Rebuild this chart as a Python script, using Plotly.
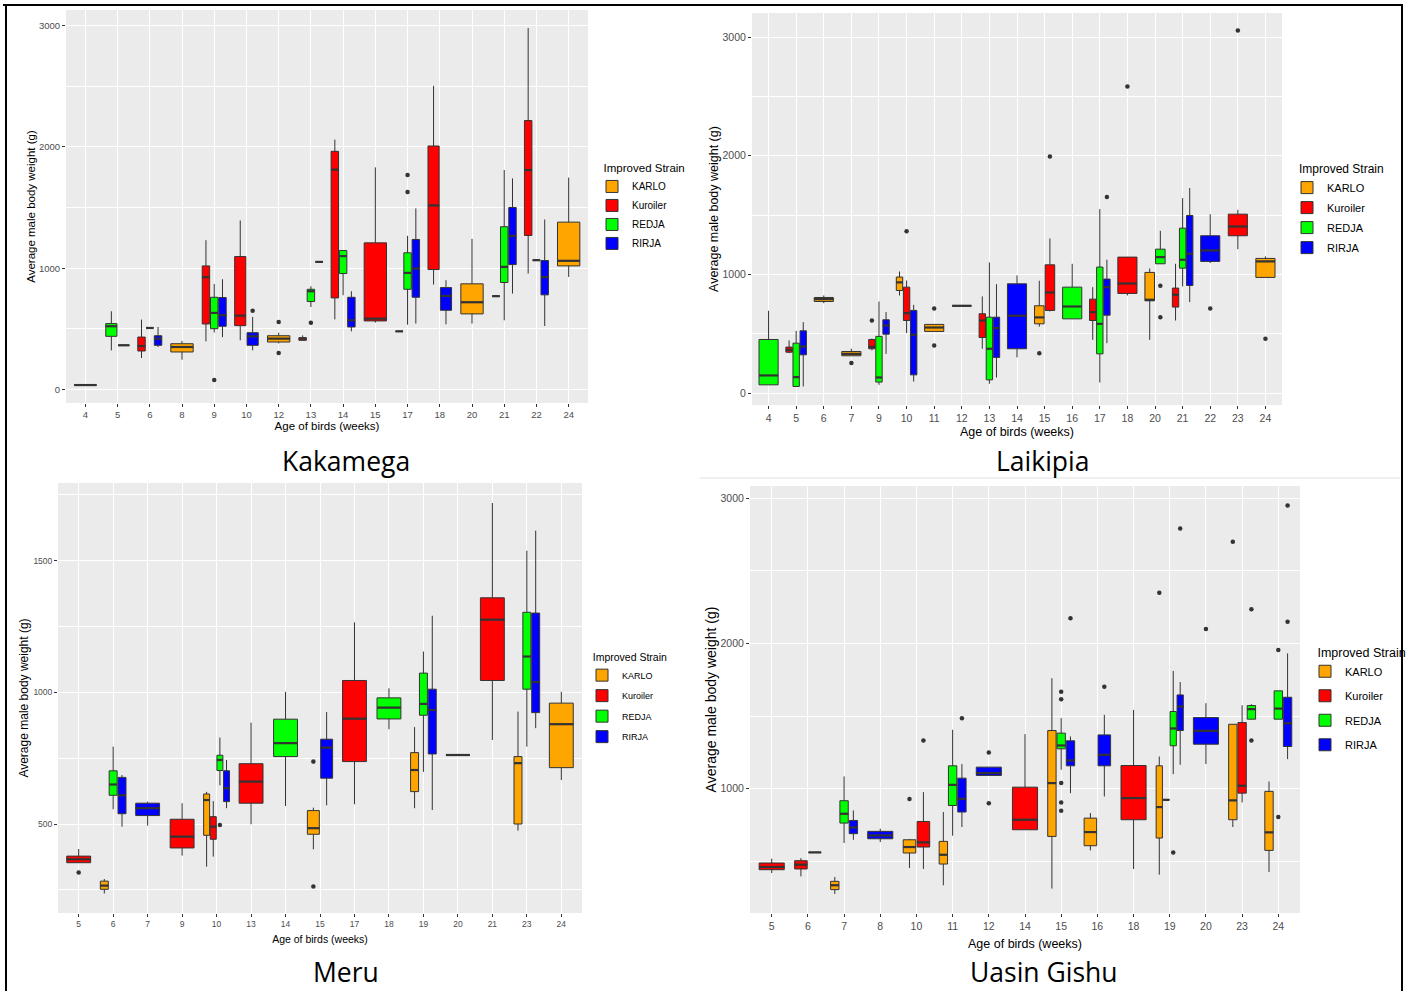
import plotly.graph_objects as go

# ---------------- data ----------------
STRAIN_ORDER = ["KARLO", "Kuroiler", "REDJA", "RIRJA"]
STRAIN_COLORS = ["#FFA500", "#FF0000", "#00FF00", "#0000FF"]

# Kakamega
KAK_AGES = [4, 5, 6, 8, 9, 10, 12, 13, 14, 15, 17, 18, 20, 21, 22, 24]
KAK_BOX_AGE = [4, 5, 5, 6, 6, 6, 8, 9, 9, 9, 10, 10, 12, 13, 13, 13, 14, 14, 14, 15,
               17, 17, 17, 18, 18, 20, 21, 21, 21, 22, 22, 22, 24]
KAK_BOX_STRAIN = ["Kuroiler", "REDJA", "RIRJA", "Kuroiler", "REDJA", "RIRJA", "KARLO",
                  "Kuroiler", "REDJA", "RIRJA", "Kuroiler", "RIRJA", "KARLO",
                  "Kuroiler", "REDJA", "RIRJA", "Kuroiler", "REDJA", "RIRJA", "Kuroiler",
                  "Kuroiler", "REDJA", "RIRJA", "Kuroiler", "RIRJA", "KARLO",
                  "Kuroiler", "REDJA", "RIRJA", "Kuroiler", "REDJA", "RIRJA", "KARLO"]
KAK_LOW = [36, 322, 364, 259, 507, 350, 245, 397, 470, 432, 405, 322, 380, 405, 680, 1052,
           578, 777, 479, 551, 479, 534, 543, 865, 537, 543, 769, 570, 791, 956, 1066, 523, 928]
KAK_Q1 = [36, 438, 364, 317, 507, 364, 309, 540, 501, 521, 526, 364, 391, 405, 725, 1052,
          755, 956, 515, 565, 479, 826, 760, 989, 653, 623, 769, 882, 1030, 1270, 1066, 780, 1019]
KAK_MED = [36, 521, 364, 358, 507, 419, 350, 926, 631, 612, 609, 438, 419, 419, 810, 1052,
           1813, 1100, 570, 584, 479, 961, 997, 1518, 771, 719, 769, 1011, 1267, 1810, 1066, 926, 1061]
KAK_Q3 = [36, 543, 364, 432, 507, 443, 377, 1019, 760, 758, 1096, 468, 443, 427, 826, 1052,
          1964, 1146, 760, 1209, 479, 1127, 1237, 2008, 840, 871, 769, 1342, 1501, 2218, 1066, 1063, 1380]
KAK_HIGH = [36, 645, 364, 576, 507, 515, 400, 1231, 870, 909, 1394, 598, 468, 446, 851, 1052,
            2061, 1150, 810, 1832, 479, 1267, 1493, 2504, 901, 1242, 769, 1810, 1741, 2981, 1066, 1402, 1747]
KAK_OUT_AGE = [9, 10, 12, 12, 13, 17, 17]
KAK_OUT_STRAIN = ["REDJA", "RIRJA", "KARLO", "KARLO", "REDJA", "REDJA", "REDJA"]
KAK_OUT_Y = [77, 650, 556, 300, 551, 1769, 1628]

# Laikipia
LAI_AGES = [4, 5, 6, 7, 9, 10, 11, 12, 13, 14, 15, 16, 17, 18, 20, 21, 22, 23, 24]
LAI_BOX_AGE = [4, 5, 5, 5, 6, 7, 9, 9, 9, 10, 10, 10, 11, 12, 13, 13, 13, 14, 15, 15,
               16, 17, 17, 17, 18, 20, 20, 21, 21, 21, 22, 23, 24]
LAI_BOX_STRAIN = ["REDJA", "Kuroiler", "REDJA", "RIRJA", "KARLO", "KARLO",
                  "Kuroiler", "REDJA", "RIRJA", "KARLO", "Kuroiler", "RIRJA", "KARLO", "KARLO",
                  "Kuroiler", "REDJA", "RIRJA", "RIRJA", "KARLO", "Kuroiler",
                  "REDJA", "Kuroiler", "REDJA", "RIRJA", "Kuroiler", "KARLO", "REDJA",
                  "Kuroiler", "REDJA", "RIRJA", "RIRJA", "Kuroiler", "KARLO"]
LAI_LOW = [70, 337, 56, 56, 758, 315, 360, 70, 331, 823, 506, 98, 520, 736, 374, 79, 132, 301,
           560, 688, 626, 449, 90, 421, 823, 449, 1090, 612, 899, 767, 1096, 1213, 975]
LAI_Q1 = [70, 345, 56, 323, 772, 315, 374, 93, 497, 865, 612, 154, 520, 736, 469, 112, 301, 374,
          584, 697, 626, 612, 331, 657, 840, 778, 1090, 725, 1053, 907, 1110, 1326, 975]
LAI_MED = [149, 365, 135, 393, 792, 331, 390, 132, 570, 933, 674, 492, 553, 736, 612, 374, 548, 652,
           638, 848, 730, 683, 584, 893, 924, 787, 1146, 829, 1124, 1174, 1202, 1404, 1110]
LAI_Q3 = [452, 388, 421, 525, 806, 351, 452, 478, 618, 978, 893, 697, 579, 736, 669, 640, 640, 921,
          736, 1081, 893, 792, 1062, 961, 1146, 1017, 1213, 885, 1390, 1497, 1326, 1508, 1135]
LAI_HIGH = [694, 444, 525, 598, 823, 374, 460, 772, 683, 1025, 949, 744, 579, 736, 815, 1101, 918, 992,
            947, 1303, 1090, 893, 1551, 1124, 1146, 1051, 1368, 1090, 1643, 1728, 1508, 1545, 1152]
LAI_OUT_AGE = [7, 9, 10, 11, 11, 15, 15, 17, 18, 20, 20, 22, 23, 24]
LAI_OUT_STRAIN = ["KARLO", "Kuroiler", "Kuroiler", "KARLO", "KARLO", "KARLO", "Kuroiler",
                  "RIRJA", "Kuroiler", "REDJA", "REDJA", "RIRJA", "Kuroiler", "KARLO"]
LAI_OUT_Y = [253, 612, 1365, 713, 402, 337, 1994, 1652, 2584, 905, 640, 713, 3056, 458]

# Meru
MER_AGES = [5, 6, 7, 9, 10, 13, 14, 15, 17, 18, 19, 20, 21, 23, 24]
MER_BOX_AGE = [5, 6, 6, 6, 7, 9, 10, 10, 10, 10, 13, 14, 15, 15, 17, 18, 19, 19, 19, 20,
               21, 23, 23, 23, 24]
MER_BOX_STRAIN = ["Kuroiler", "KARLO", "REDJA", "RIRJA", "RIRJA", "Kuroiler",
                  "KARLO", "Kuroiler", "REDJA", "RIRJA", "Kuroiler", "REDJA", "KARLO", "RIRJA",
                  "Kuroiler", "REDJA", "KARLO", "REDJA", "RIRJA", "REDJA",
                  "Kuroiler", "KARLO", "REDJA", "RIRJA", "KARLO"]
MER_LOW = [353, 236, 556, 490, 494, 380, 338, 376, 647, 560, 499, 568, 404, 571, 575, 860,
           560, 698, 553, 762, 819, 475, 794, 864, 667]
MER_Q1 = [353, 252, 609, 539, 532, 409, 457, 442, 703, 585, 579, 756, 461, 674, 737, 899,
          623, 913, 766, 762, 1045, 500, 1012, 923, 714]
MER_MED = [366, 266, 650, 609, 560, 452, 591, 490, 743, 636, 661, 807, 484, 790, 900, 942,
           705, 956, 933, 762, 1276, 731, 1136, 1039, 879]
MER_Q3 = [378, 283, 702, 677, 579, 518, 614, 528, 761, 702, 729, 898, 551, 822, 1045, 979,
          771, 1073, 1012, 762, 1359, 756, 1304, 1301, 959]
MER_HIGH = [405, 291, 794, 686, 585, 579, 622, 587, 828, 743, 885, 1002, 562, 925, 1266, 1015,
            868, 1155, 1291, 762, 1719, 927, 1538, 1614, 1002]
MER_OUT_AGE = [5, 10, 15, 15]
MER_OUT_STRAIN = ["Kuroiler", "REDJA", "KARLO", "KARLO"]
MER_OUT_Y = [316, 496, 737, 263]

# Uasin Gishu
UG_AGES = [5, 6, 7, 8, 10, 11, 12, 14, 15, 16, 18, 19, 20, 23, 24]
UG_BOX_AGE = [5, 6, 6, 7, 7, 7, 8, 10, 10, 11, 11, 11, 12, 14, 15, 15, 15, 16, 16, 18,
              19, 19, 19, 19, 20, 23, 23, 23, 24, 24, 24]
UG_BOX_STRAIN = ["Kuroiler", "Kuroiler", "RIRJA", "KARLO", "REDJA", "RIRJA", "RIRJA",
                 "KARLO", "Kuroiler", "KARLO", "REDJA", "RIRJA", "RIRJA", "Kuroiler",
                 "KARLO", "REDJA", "RIRJA", "KARLO", "RIRJA", "Kuroiler",
                 "KARLO", "Kuroiler", "REDJA", "RIRJA", "RIRJA",
                 "KARLO", "Kuroiler", "REDJA", "KARLO", "REDJA", "RIRJA"]
UG_LOW = [420, 397, 562, 276, 627, 649, 633, 455, 448, 336, 677, 737, 1092, 718, 313, 1131, 970,
          576, 947, 448, 409, 924, 1101, 1165, 1170, 737, 906, 1479, 427, 1479, 1204]
UG_Q1 = [443, 448, 562, 306, 764, 691, 656, 558, 599, 482, 885, 840, 1092, 718, 672, 1275, 1158,
         608, 1158, 787, 661, 924, 1296, 1401, 1307, 787, 970, 1479, 576, 1479, 1291]
UG_MED = [462, 478, 562, 336, 828, 734, 679, 599, 631, 546, 1027, 931, 1108, 787, 1039, 1298, 1195,
          702, 1234, 936, 874, 924, 1415, 1566, 1399, 920, 1021, 1548, 700, 1552, 1451]
UG_Q3 = [489, 505, 562, 363, 918, 782, 707, 649, 775, 638, 1158, 1073, 1149, 1011, 1401, 1383, 1330,
         798, 1371, 1160, 1158, 924, 1532, 1646, 1490, 1444, 1456, 1573, 982, 1674, 1630]
UG_HIGH = [519, 523, 562, 393, 1085, 851, 725, 654, 977, 840, 1406, 1170, 1149, 1376, 1761, 1486, 1360,
           833, 1509, 1543, 1222, 924, 1811, 1735, 1589, 1444, 1575, 1582, 1050, 1674, 1932]
UG_OUT_AGE = [10, 10, 11, 12, 12, 15, 15, 15, 15, 15, 15, 16, 19, 19, 19, 20, 23, 23, 23,
              24, 24, 24, 24]
UG_OUT_STRAIN = ["KARLO", "Kuroiler", "RIRJA", "RIRJA", "RIRJA", "REDJA", "REDJA", "REDJA",
                 "REDJA", "REDJA", "RIRJA", "RIRJA", "KARLO", "REDJA", "RIRJA", "RIRJA",
                 "KARLO", "REDJA", "REDJA", "REDJA", "REDJA", "RIRJA", "RIRJA"]
UG_OUT_Y = [929, 1332, 1486, 1250, 901, 1667, 1616, 1039, 906, 849, 2173, 1703, 2349, 562, 2792,
            2100, 2700, 2235, 1332, 1955, 805, 2950, 2150]

PANEL_NAMES = ["Kakamega", "Laikipia", "Meru", "Uasin Gishu"]
X_TITLE = "Age of birds (weeks)"
Y_TITLE = "Average male body weight (g)"
LEGEND_TITLE = "Improved Strain"

# ---------------- styling ----------------
W_PX, H_PX = 1410, 991
FONT = "Liberation Sans, Arial, sans-serif"
OUTLINE = "#333333"

panels = [
    dict(name=PANEL_NAMES[0], ages=KAK_AGES, bage=KAK_BOX_AGE, bstr=KAK_BOX_STRAIN,
         lo=KAK_LOW, q1=KAK_Q1, med=KAK_MED, q3=KAK_Q3, hi=KAK_HIGH,
         oage=KAK_OUT_AGE, ostr=KAK_OUT_STRAIN, oy=KAK_OUT_Y,
         box=(66, 588, 10, 403), yr=[-112, 3130], dtick=1000,
         tick=9.5, xt=11.5, yt=11.5, xstand=2, ystand=0,
         leg=(592, 157), legt=11.5, legi=10, gap=0, ind=3,
         cap=(346, 461)),
    dict(name=PANEL_NAMES[1], ages=LAI_AGES, bage=LAI_BOX_AGE, bstr=LAI_BOX_STRAIN,
         lo=LAI_LOW, q1=LAI_Q1, med=LAI_MED, q3=LAI_Q3, hi=LAI_HIGH,
         oage=LAI_OUT_AGE, ostr=LAI_OUT_STRAIN, oy=LAI_OUT_Y,
         box=(752, 1282, 13, 405), yr=[-100, 3203], dtick=1000,
         tick=10.5, xt=12.5, yt=12.5, xstand=4, ystand=1,
         leg=(1287, 157.5), legt=12, legi=11, gap=1, ind=3,
         cap=(1043, 461)),
    dict(name=PANEL_NAMES[2], ages=MER_AGES, bage=MER_BOX_AGE, bstr=MER_BOX_STRAIN,
         lo=MER_LOW, q1=MER_Q1, med=MER_MED, q3=MER_Q3, hi=MER_HIGH,
         oage=MER_OUT_AGE, ostr=MER_OUT_STRAIN, oy=MER_OUT_Y,
         box=(58, 582, 483, 913), yr=[162, 1795], dtick=500,
         tick=8.5, xt=10.5, yt=12, xstand=7, ystand=2,
         leg=(582, 647), legt=10.5, legi=9, gap=1.5, ind=3,
         cap=(346, 972)),
    dict(name=PANEL_NAMES[3], ages=UG_AGES, bage=UG_BOX_AGE, bstr=UG_BOX_STRAIN,
         lo=UG_LOW, q1=UG_Q1, med=UG_MED, q3=UG_Q3, hi=UG_HIGH,
         oage=UG_OUT_AGE, ostr=UG_OUT_STRAIN, oy=UG_OUT_Y,
         box=(750, 1300, 486, 913), yr=[145, 3084], dtick=1000,
         tick=10.5, xt=12.5, yt=14, xstand=8, ystand=0,
         leg=(1305, 640.5), legt=12.5, legi=11, gap=5.5, ind=3,
         cap=(1044, 972)),
]

DODGE_W = 0.77


def px_x(v):
    return v / W_PX


def px_y(v):
    return 1 - v / H_PX


fig = go.Figure()
layout = dict(
    width=W_PX, height=H_PX, margin=dict(l=0, r=0, t=0, b=0),
    paper_bgcolor="white", plot_bgcolor="#EBEBEB", boxmode="overlay",
    font=dict(family=FONT, color="#4D4D4D"), annotations=[], shapes=[],
)

for k, p in enumerate(panels, start=1):
    sfx = "" if k == 1 else str(k)
    xa, ya = "x" + sfx, "y" + sfx
    legname = "legend" + sfx
    ages = p["ages"]
    # dodge positions computed from which strains occur at each age
    pos, wid = {}, {}
    for ci, a in enumerate(ages, start=1):
        present = sorted({s for ag, s in zip(p["bage"], p["bstr"]) if ag == a},
                         key=STRAIN_ORDER.index)
        n = len(present)
        slot = DODGE_W / n
        for j, s in enumerate(present):
            pos[(a, s)] = ci - DODGE_W / 2 + slot * (j + 0.5)
            wid[(a, s)] = slot * 0.9

    mx, my = [], []
    for si, s in enumerate(STRAIN_ORDER):
        first = True
        for j in range(len(p["bage"])):
            if p["bstr"][j] != s:
                continue
            key = (p["bage"][j], s)
            fig.add_trace(go.Box(
                x=[pos[key]], q1=[p["q1"][j]], median=[p["med"][j]], q3=[p["q3"][j]],
                lowerfence=[p["lo"][j]], upperfence=[p["hi"][j]],
                width=wid[key], fillcolor=STRAIN_COLORS[si],
                line=dict(color=OUTLINE, width=1), whiskerwidth=0, boxpoints=False,
                name=s, legendgroup=f"{k}-{s}", showlegend=first, legend=legname,
                xaxis=xa, yaxis=ya,
            ))
            first = False
            w = wid[key]
            mx += [pos[key] - w / 2, pos[key] + w / 2, None]
            my += [p["med"][j], p["med"][j], None]
    fig.add_trace(go.Scatter(x=mx, y=my, mode="lines", line=dict(color=OUTLINE, width=2.2),
                             showlegend=False, hoverinfo="skip", xaxis=xa, yaxis=ya))
    fig.add_trace(go.Scatter(
        x=[pos[(a, s)] for a, s in zip(p["oage"], p["ostr"])], y=p["oy"], mode="markers",
        marker=dict(color=OUTLINE, size=4.5), showlegend=False, xaxis=xa, yaxis=ya))

    x0, x1, y0, y1 = p["box"]
    layout["xaxis" + sfx] = dict(
        domain=[px_x(x0), px_x(x1)], anchor=ya, range=[0.4, len(ages) + 0.6],
        tickmode="array", tickvals=list(range(1, len(ages) + 1)), ticktext=[str(a) for a in ages],
        showgrid=True, gridcolor="white", gridwidth=1.2, zeroline=False, showline=False,
        ticks="outside", ticklen=3, tickcolor=OUTLINE, tickfont=dict(size=p["tick"], color="#4D4D4D"),
        title=dict(text=X_TITLE, font=dict(size=p["xt"], color="black"), standoff=p["xstand"]),
    )
    layout["yaxis" + sfx] = dict(
        domain=[px_y(y1), px_y(y0)], anchor=xa, range=p["yr"], tick0=0, dtick=p["dtick"],
        showgrid=True, gridcolor="white", gridwidth=1.2, zeroline=False, showline=False,
        ticks="outside", ticklen=3, tickcolor=OUTLINE, tickfont=dict(size=p["tick"], color="#4D4D4D"),
        minor=dict(dtick=p["dtick"] / 2, tick0=0, showgrid=True, gridcolor="white", gridwidth=0.6, ticks=""),
        title=dict(text=Y_TITLE, font=dict(size=p["yt"], color="black"), standoff=p["ystand"]),
    )
    lx, ly = p["leg"]
    layout[legname] = dict(
        x=px_x(lx), y=px_y(ly), xanchor="left", yanchor="top", bgcolor="rgba(0,0,0,0)",
        title=dict(text="\u00a0" * p["ind"] + LEGEND_TITLE, font=dict(size=p["legt"], color="black")),
        font=dict(size=p["legi"], color="black"), tracegroupgap=p["gap"], itemwidth=30,
    )
    cx, cy = p["cap"]
    layout["annotations"].append(dict(
        text=p["name"], x=px_x(cx), y=px_y(cy), xref="paper", yref="paper", showarrow=False,
        xanchor="center", yanchor="middle", font=dict(family="Open Sans, Noto Sans, sans-serif", size=26.5, color="black"),
    ))

# frame lines of the composite figure
for (ax0, ay0, ax1, ay1, col, wdt) in [
    (3, 5, 1403, 5, "black", 2), (6, 5, 6, 991, "black", 2), (1402, 5, 1402, 991, "black", 2),
    (700, 478, 1400, 478, "#E0E0E0", 1),
]:
    layout["shapes"].append(dict(type="line", xref="paper", yref="paper",
                                 x0=px_x(ax0), y0=px_y(ay0), x1=px_x(ax1), y1=px_y(ay1),
                                 line=dict(color=col, width=wdt)))

fig.update_layout(**layout)
fig.write_html("out.html", config={"displayModeBar": False},
               post_script="document.body.style.margin='0';document.body.style.overflow='hidden';")
